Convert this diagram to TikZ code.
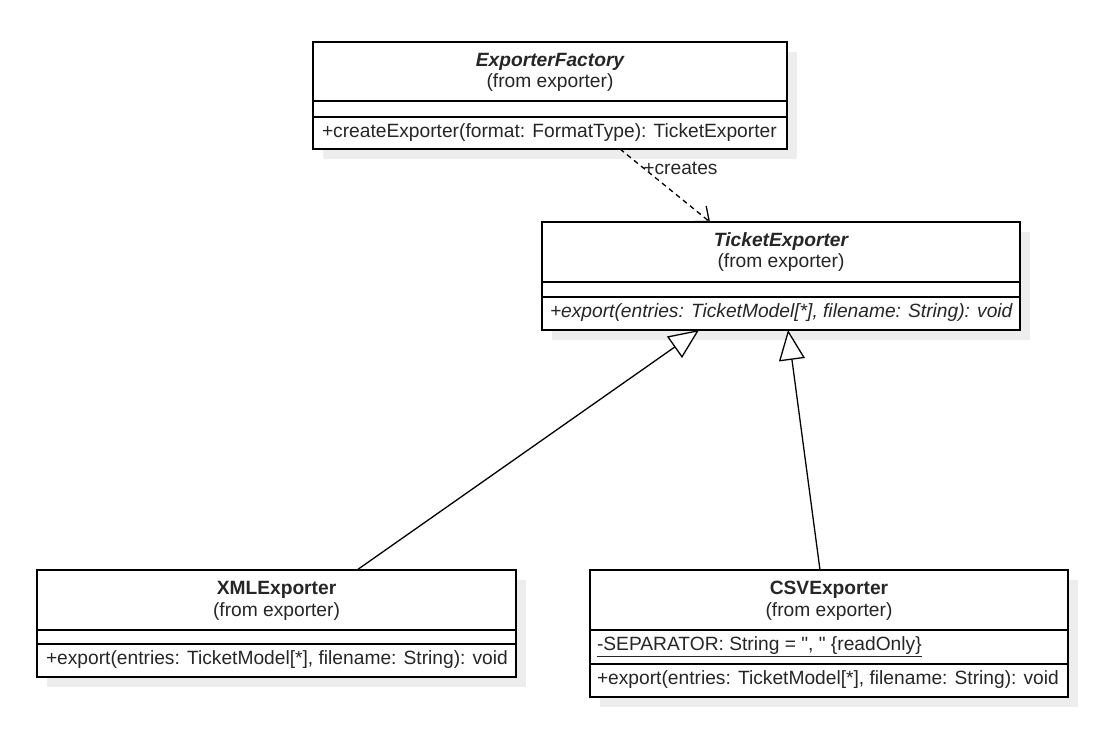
\documentclass[tikz,border=0pt]{standalone}
\usepackage{fontspec}
\setmainfont{Liberation Sans}[Ligatures=TeXOff]
\usetikzlibrary{arrows.meta}
\tikzset{
  box/.style={draw=black, line width=1.5pt, fill=white, outer sep=0pt, inner sep=0pt, rectangle},
  shadowbox/.style={fill=black!7, draw=none, outer sep=0pt, inner sep=0pt, rectangle},
  txt/.style={inner sep=0pt, outer sep=0pt, font=\fontsize{19.2pt}{22pt}\selectfont, text=black!85},
  sepline/.style={line width=1.5pt, draw=black},
  dep/.style={line width=1.3pt, dash pattern=on 5pt off 4pt, -{Straight Barb[length=12pt,width=20pt,line width=1.3pt]}},
  gen/.style={line width=1.3pt, -{Triangle[length=30pt,width=26pt,fill=white,line width=1.3pt]}, line join=miter},
}
\begin{document}
\begin{tikzpicture}[x=1pt,y=-1pt]
\useasboundingbox (0,0) rectangle (1104,730);
% shadows
\node[shadowbox, minimum width=474pt, minimum height=107pt] (factoryS) at (560,105.5) {};
\node[shadowbox, minimum width=478pt, minimum height=108pt] (ticketS) at (791,286) {};
\node[shadowbox, minimum width=479pt, minimum height=107pt] (xmlS) at (286.5,633.5) {};
\node[shadowbox, minimum width=478pt, minimum height=127pt] (csvS) at (839,643.5) {};
% boxes
\node[box, minimum width=474pt, minimum height=107pt] (factory) at (550,95.5) {};
\node[box, minimum width=478pt, minimum height=108pt] (ticket) at (781,276) {};
\node[box, minimum width=479pt, minimum height=107pt] (xml) at (276.5,623.5) {};
\node[box, minimum width=478pt, minimum height=127pt] (csv) at (829,633.5) {};
% separators
\draw[sepline] ([yshift=-59pt]factory.north west) -- ([yshift=-59pt]factory.north east);
\draw[sepline] ([yshift=-75pt]factory.north west) -- ([yshift=-75pt]factory.north east);
\draw[sepline] ([yshift=-60pt]ticket.north west) -- ([yshift=-60pt]ticket.north east);
\draw[sepline] ([yshift=-75pt]ticket.north west) -- ([yshift=-75pt]ticket.north east);
\draw[sepline] ([yshift=-60pt]xml.north west) -- ([yshift=-60pt]xml.north east);
\draw[sepline] ([yshift=-74pt]xml.north west) -- ([yshift=-74pt]xml.north east);
\draw[sepline] ([yshift=-60pt]csv.north west) -- ([yshift=-60pt]csv.north east);
\draw[sepline] ([yshift=-94pt]csv.north west) -- ([yshift=-94pt]csv.north east);
% texts
\node[txt] (factoryN) at (550,62) {\bfseries\itshape ExporterFactory};
\node[txt] (factoryF) at (550,83) {(from exporter)};
\node[txt, anchor=west] (factoryM) at (322,133) {+createExporter(format: FormatType): TicketExporter};
\node[txt] (ticketN) at (781,242) {\bfseries\itshape TicketExporter};
\node[txt] (ticketF) at (781,263) {(from exporter)};
\node[txt, anchor=west] (ticketM) at (550,313) {\itshape +export(entries: TicketModel[*], filename: String): void};
\node[txt] (xmlN) at (276.5,590) {\bfseries XMLExporter};
\node[txt] (xmlF) at (276.5,612) {(from exporter)};
\node[txt, anchor=west] (xmlM) at (46,660) {+export(entries: TicketModel[*], filename: String): void};
\node[txt] (csvN) at (829,590) {\bfseries CSVExporter};
\node[txt] (csvF) at (829,612) {(from exporter)};
\node[txt, anchor=west] (csvA) at (597,647) {\underline{-SEPARATOR: String = ", " \{readOnly\}}};
\node[txt, anchor=west] (csvM) at (597,680) {+export(entries: TicketModel[*], filename: String): void};
% connector endpoints
\coordinate (depA) at ([xshift=70pt]factory.south);
\coordinate (depB) at ([xshift=-71pt]ticket.north);
\coordinate (xmlA) at ([xshift=80.5pt]xml.north);
\coordinate (xmlB) at ([xshift=-82pt]ticket.south);
\coordinate (csvA1) at ([xshift=-9pt]csv.north);
\coordinate (csvB) at ([xshift=7pt]ticket.south);
% connectors
\draw[dep] (depA) -- node[txt, pos=0.26, anchor=west] (depL) {+creates} (depB);
\draw[gen] (xmlA) -- (xmlB);
\draw[gen] (csvA1) -- (csvB);
\end{tikzpicture}
\end{document}
